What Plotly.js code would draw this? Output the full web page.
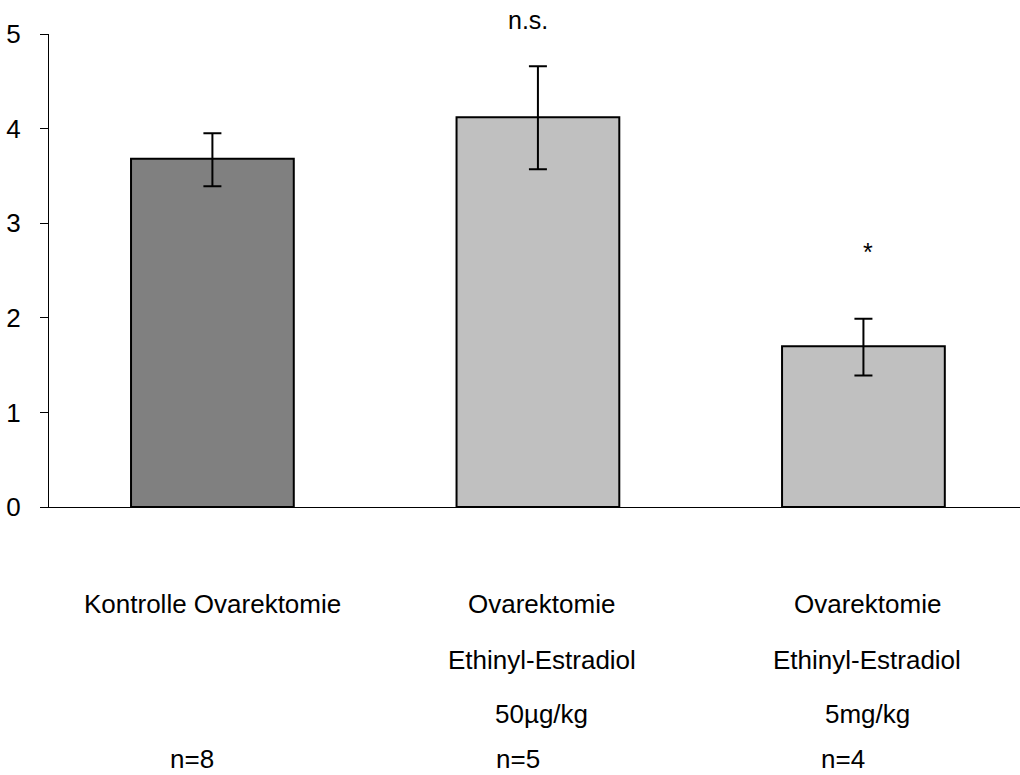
<!DOCTYPE html>
<html>
<head>
<meta charset="utf-8">
<script src="https://cdn.plot.ly/plotly-3.0.1.min.js"></script>
<style>
  html, body { margin: 0; padding: 0; background: #fff; }
  #chart { width: 1020px; height: 775px; }
</style>
</head>
<body>
<div id="chart"></div>
<script>
// Group labels (one array of lines per group), sample sizes and results
const groupLines = [
  ['Kontrolle Ovarektomie'],
  ['Ovarektomie', 'Ethinyl-Estradiol', '50µg/kg'],
  ['Ovarektomie', 'Ethinyl-Estradiol', '5mg/kg']
];
const sampleSizes = ['n=8', 'n=5', 'n=4'];
const means = [3.68, 4.12, 1.70];
const errUpper = [0.27, 0.54, 0.29];
const errLower = [0.29, 0.55, 0.31];
const sigMarks = ['', 'n.s.', '*'];
const yTicks = [0, 1, 2, 3, 4, 5];

const barColors = ['#808080', '#c0c0c0', '#c0c0c0'];
const FONT = 'Liberation Sans, Arial, sans-serif';
const LABEL_SIZE = 26;

const xIdx = means.map((_, i) => i);

const trace = {
  type: 'bar',
  x: xIdx,
  y: means,
  width: 0.5,
  marker: { color: barColors, line: { color: '#000', width: 2 } },
  error_y: {
    type: 'data', symmetric: false,
    array: errUpper, arrayminus: errLower,
    color: '#000', thickness: 2, width: 9
  },
  hoverinfo: 'skip'
};

// pixel geometry of the plot area
const plotTop = 34, plotBottom = 507, plotH = plotBottom - plotTop;
const pyToPaper = py => (plotBottom - py) / plotH;

const annotations = [];
const lineY = [604, 660, 714];
groupLines.forEach((lines, i) => {
  lines.forEach((txt, j) => {
    annotations.push({
      x: i, xref: 'x', y: pyToPaper(lineY[j]), yref: 'paper',
      xshift: i === 0 ? 0 : 4,
      text: txt, showarrow: false, xanchor: 'center', yanchor: 'middle',
      font: { family: FONT, size: LABEL_SIZE, color: '#000' }
    });
  });
});
sampleSizes.forEach((txt, i) => {
  annotations.push({
    x: i, xref: 'x', y: pyToPaper(759), yref: 'paper', xshift: -20,
    text: txt, showarrow: false, xanchor: 'center', yanchor: 'middle',
    font: { family: FONT, size: LABEL_SIZE, color: '#000' }
  });
});
// significance marks above the treated groups
annotations.push({
  x: 1, xref: 'x', y: pyToPaper(20), yref: 'paper', xshift: -10,
  text: sigMarks[1], showarrow: false, xanchor: 'center', yanchor: 'middle',
  font: { family: FONT, size: 25, color: '#000' }
});
annotations.push({
  x: 2, xref: 'x', y: pyToPaper(252), yref: 'paper', xshift: 5,
  text: sigMarks[2], showarrow: false, xanchor: 'center', yanchor: 'middle',
  font: { family: FONT, size: 25, color: '#000' }
});

const layout = {
  width: 1020, height: 775,
  margin: { l: 49, r: 0, t: plotTop, b: 775 - plotBottom, pad: 0 },
  paper_bgcolor: '#fff', plot_bgcolor: '#fff',
  showlegend: false,
  font: { family: FONT, size: LABEL_SIZE, color: '#000' },
  xaxis: {
    range: [-0.502, 2.481],
    showline: true, linecolor: '#000', linewidth: 1,
    showticklabels: false, ticks: '', showgrid: false, zeroline: false,
    fixedrange: true
  },
  yaxis: {
    range: [0, 5],
    tickvals: yTicks, ticktext: yTicks.map(String),
    showline: true, linecolor: '#000', linewidth: 1,
    ticks: 'outside', ticklen: 8, tickcolor: '#000', tickwidth: 1,
    ticklabelstandoff: 14,
    tickfont: { family: FONT, size: 26, color: '#000' },
    showgrid: false, zeroline: false, fixedrange: true
  },
  annotations: annotations
};

Plotly.newPlot('chart', [trace], layout, { staticPlot: true, displayModeBar: false });
</script>
</body>
</html>
